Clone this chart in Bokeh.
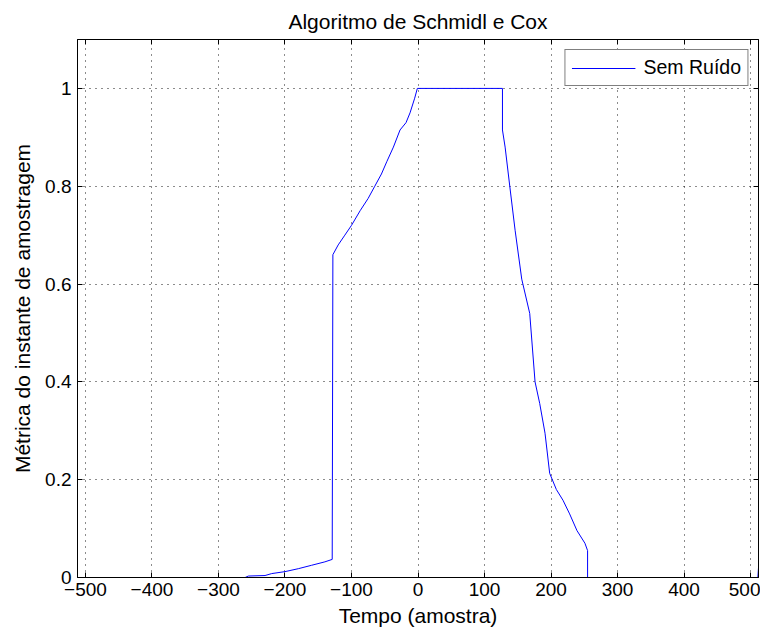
from bokeh.plotting import figure
from bokeh.models import (FixedTicker, CustomJSTickFormatter, LinearAxis, Range1d,
                          Legend, LegendItem)
from bokeh.embed import file_html
from bokeh.resources import INLINE

title = "Algoritmo de Schmidl e Cox"
x_label = "Tempo (amostra)"
y_label = "Métrica do instante de amostragem"
series_name = "Sem Ruído"

x_ticks = [-500, -400, -300, -200, -100, 0, 100, 200, 300, 400, 500]
y_ticks = [0, 0.2, 0.4, 0.6, 0.8, 1]

# breakpoints of the metric curve (sample index, metric)
t = [-512, -260, -255, -230, -220, -200, -180, -160, -140, -129, -128, -120, -110,
     -100, -87, -75, -65, -55, -47, -37, -27, -18, -12, -5, -1, 127, 127, 131,
     138, 146, 156, 168, 176, 183, 191, 198, 208, 218, 228, 239, 251, 255, 255,
     511, 512]
metric = [0, 0, 0.003, 0.004, 0.008, 0.012, 0.018, 0.025, 0.032, 0.037, 0.66, 0.68,
          0.70, 0.72, 0.75, 0.775, 0.80, 0.825, 0.85, 0.88, 0.915, 0.93, 0.95, 0.98,
          1.0, 1.0, 0.915, 0.88, 0.80, 0.71, 0.61, 0.54, 0.40, 0.356, 0.295, 0.213,
          0.18, 0.158, 0.13, 0.096, 0.07, 0.055, 0, 0, 0.02]

FONT = "Liberation Sans"

p = figure(width=760, height=631, output_backend="svg", toolbar_location=None,
           x_range=Range1d(-512, 512), y_range=Range1d(0, 1.1),
           min_border_left=77, min_border_top=39, min_border_right=2,
           min_border_bottom=54)

p.title.text = title
p.title.align = "center"
p.title.text_font = FONT
p.title.text_font_style = "normal"
p.title.text_font_size = "21px"
p.title.text_color = "black"
p.title.standoff = 13

r = p.line(t, metric, line_color="#0000ff", line_width=1)

fmt = CustomJSTickFormatter(code="return tick.toString().replace('-', '\u2212');")

for ax, ticks in ((p.xaxis[0], x_ticks), (p.yaxis[0], y_ticks)):
    ax.ticker = FixedTicker(ticks=ticks)
    ax.formatter = fmt
    ax.major_tick_in = 5
    ax.major_tick_out = 0
    ax.minor_tick_line_color = None
    ax.major_tick_line_color = "black"
    ax.axis_line_color = "black"
    ax.major_label_text_font = FONT
    ax.major_label_text_font_size = "19px"
    ax.major_label_text_color = "black"
    ax.axis_label_text_font = FONT
    ax.axis_label_text_font_size = "21px"
    ax.axis_label_text_font_style = "normal"
    ax.axis_label_text_color = "black"

p.xaxis[0].axis_label = x_label
p.yaxis[0].axis_label = y_label
p.xaxis[0].major_label_standoff = 5
p.xaxis[0].axis_label_standoff = 5
p.yaxis[0].major_label_standoff = 6
p.yaxis[0].axis_label_standoff = 8

blank = CustomJSTickFormatter(code="return '';")
for loc, ticks in (("above", x_ticks), ("right", y_ticks)):
    a = LinearAxis(ticker=FixedTicker(ticks=ticks), major_tick_in=5, major_tick_out=0,
                   minor_tick_line_color=None, formatter=blank,
                   major_label_standoff=0, axis_line_color="black",
                   major_tick_line_color="black")
    p.add_layout(a, loc)

for g, ticks in ((p.xgrid[0], x_ticks), (p.ygrid[0], y_ticks)):
    g.ticker = FixedTicker(ticks=ticks)
    g.grid_line_color = "black"
    g.grid_line_dash = "1 5"
    g.grid_line_width = 1
    g.grid_line_alpha = 0.9

p.outline_line_color = "black"
p.outline_line_width = 1

legend = Legend(items=[LegendItem(label=series_name, renderers=[r])],
                location="top_right")
legend.label_text_font = FONT
legend.label_text_font_size = "19.5px"
legend.label_text_color = "black"
legend.glyph_width = 64
legend.glyph_height = 20
legend.border_line_color = "black"
legend.border_line_width = 1
legend.background_fill_alpha = 1
legend.margin = 10
legend.padding = 6
legend.label_standoff = 8
p.add_layout(legend)

open("out.html", "w").write(file_html(p, INLINE))
